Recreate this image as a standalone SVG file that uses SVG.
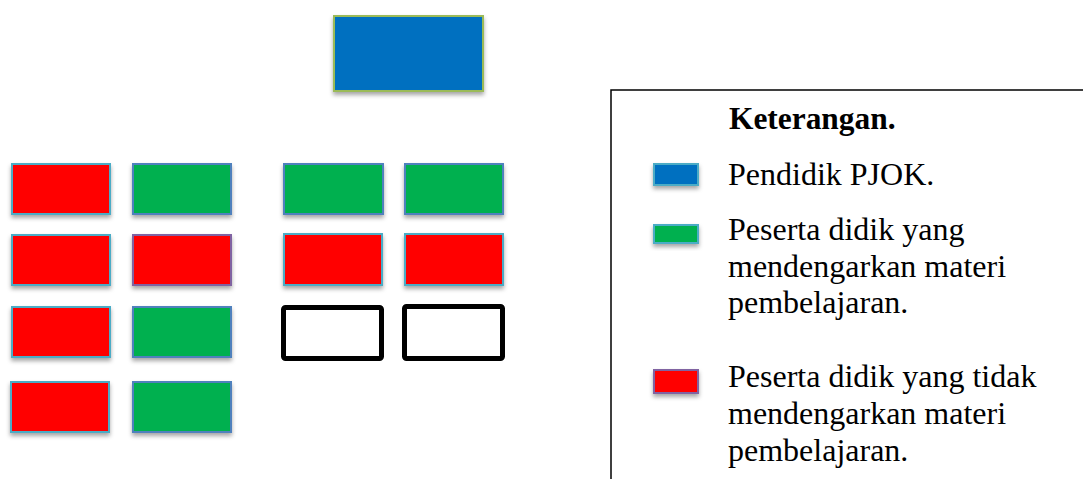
<svg xmlns="http://www.w3.org/2000/svg" width="1083" height="479" viewBox="0 0 1083 479">
<defs>
<filter id="sh" x="-20%" y="-20%" width="140%" height="160%">
<feDropShadow dx="0" dy="3" stdDeviation="2" flood-color="#000" flood-opacity="0.35"/>
</filter>
<style>
.r{fill:#ff0000;stroke:#4bacc6;stroke-width:2;filter:url(#sh)}
.rp{fill:#ff0000;stroke:#8064a2;stroke-width:2;filter:url(#sh)}
.g{fill:#00b050;stroke:#4f81bd;stroke-width:2;filter:url(#sh)}
.gl{fill:#00b050;stroke:#4bacc6;stroke-width:2;filter:url(#sh)}
.b{fill:#0070c0;stroke:#9bbb59;stroke-width:2;filter:url(#sh)}
.bl{fill:#0070c0;stroke:#4bacc6;stroke-width:2;filter:url(#sh)}
.e{fill:#fff;stroke:#000;stroke-width:5}
.t{font-family:"Liberation Serif","Times New Roman",serif;font-size:32px;fill:#000}
.tb{font-family:"Liberation Serif","Times New Roman",serif;font-size:31.4px;font-weight:bold;fill:#000}
</style>
</defs>
<rect width="1083" height="479" fill="#fff"/>
<g id="teacher"><rect class="b" x="334" y="16" width="149" height="75"/></g>
<g id="s-r1c1"><rect class="r" x="12" y="164" width="98" height="50"/></g>
<g id="s-r1c2"><rect class="g" x="133" y="164" width="98" height="50"/></g>
<g id="s-r1c3"><rect class="g" x="284" y="164" width="99" height="50"/></g>
<g id="s-r1c4"><rect class="g" x="405" y="164" width="98" height="50"/></g>
<g id="s-r2c1"><rect class="r" x="12" y="235" width="98" height="50"/></g>
<g id="s-r2c2"><rect class="rp" x="133" y="235" width="98" height="50"/></g>
<g id="s-r2c3"><rect class="r" x="284" y="234" width="98" height="51"/></g>
<g id="s-r2c4"><rect class="r" x="405" y="234" width="98" height="51"/></g>
<g id="s-r3c1"><rect class="r" x="12" y="307" width="98" height="50"/></g>
<g id="s-r3c2"><rect class="g" x="133" y="307" width="98" height="50"/></g>
<g id="s-r3c3"><rect class="e" x="283.5" y="307.5" width="98" height="51" rx="2"/></g>
<g id="s-r3c4"><rect class="e" x="404.5" y="306.5" width="98" height="52" rx="2"/></g>
<g id="s-r4c1"><rect class="r" x="11" y="382" width="98" height="50"/></g>
<g id="s-r4c2"><rect class="g" x="133" y="382" width="98" height="50"/></g>
<g id="connectors"></g>
<g id="legend">
<rect x="611" y="90" width="520" height="420" fill="none" stroke="#000" stroke-width="1.5"/>
<text class="tb" x="729" y="129">Keterangan.</text>
<rect class="bl" x="654" y="164" width="44" height="21"/>
<text class="t" x="728" y="185">Pendidik PJOK.</text>
<rect class="gl" x="654" y="225" width="44" height="18"/>
<text class="t" x="728" y="240">Peserta didik yang</text>
<text class="t" x="728" y="277">mendengarkan materi</text>
<text class="t" x="728" y="313">pembelajaran.</text>
<rect class="rp" x="654" y="370" width="44" height="23"/>
<text class="t" x="728" y="387">Peserta didik yang tidak</text>
<text class="t" x="728" y="424">mendengarkan materi</text>
<text class="t" x="728" y="461">pembelajaran.</text>
</g>
</svg>
